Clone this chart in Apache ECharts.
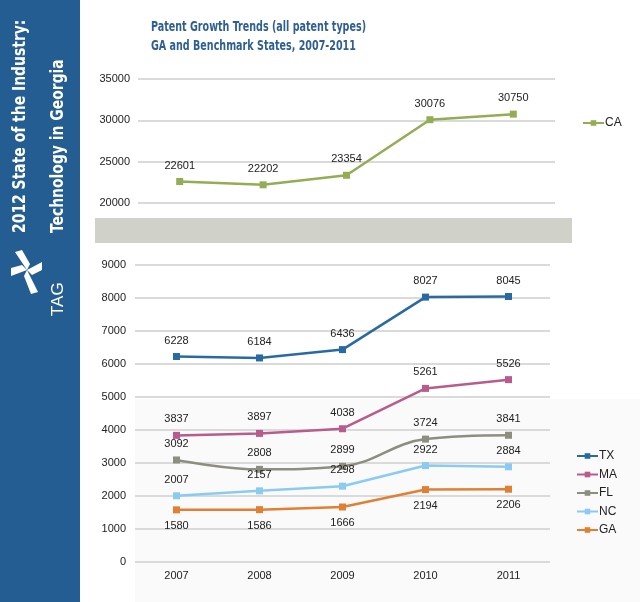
<!DOCTYPE html>
<html>
<head>
<meta charset="utf-8">
<script src="https://cdn.jsdelivr.net/npm/echarts@6/dist/echarts.min.js"></script>
<style>
  html, body {margin: 0; padding: 0; background: #fff;}
  #chart {width: 640px; height: 602px;}
</style>
</head>
<body>
<div id="chart"></div>
<script>
  // data
  const years = ['2007', '2008', '2009', '2010', '2011']
  const CA = [22601, 22202, 23354, 30076, 30750]
  const TX = [6228, 6184, 6436, 8027, 8045]
  const MA = [3837, 3897, 4038, 5261, 5526]
  const FL = [3092, 2808, 2899, 3724, 3841]
  const NC = [2007, 2157, 2298, 2922, 2884]
  const GA = [1580, 1586, 1666, 2194, 2206]

  const colors = {CA: '#93ad55', TX: '#2a6aa3', MA: '#b75c8d', FL: '#8e8e80', NC: '#8ccbf0', GA: '#df8035'}
  const font = '"Liberation Sans", Arial, sans-serif'

  function lineSeries(name, data, idx, opts) {
    return Object.assign({
      name, type: 'line', data, xAxisIndex: idx, yAxisIndex: idx,
      symbol: 'rect', symbolSize: 7, color: colors[name],
      lineStyle: {width: 2.5, color: colors[name]},
      itemStyle: {color: colors[name]},
      label: {show: true, position: 'top', distance: 7, color: '#222', fontFamily: font, fontSize: 11},
      emphasis: {disabled: true}, animation: false,
    }, opts || {})
  }

  const chart = echarts.init(document.getElementById('chart'))
  const axisText = {color: '#222', fontFamily: font, fontSize: 11, formatter: v => String(v)}
  const split = {show: true, lineStyle: {color: '#dadada', width: 2}}
  const legendText = {color: '#222', fontFamily: font, fontSize: 12, padding: [0, 0, 0, -4]}
  const sideFont = 'bold 18px "Liberation Sans Narrow", "DejaVu Sans Condensed"'
  const titleFont = 'bold 14px "Liberation Sans Narrow", "DejaVu Sans Condensed"'

  chart.setOption({
    backgroundColor: '#fff',
    animation: false,
    grid: [
      {left: 138, top: 79, width: 417, height: 124},
      {left: 135, top: 265, width: 415, height: 297},
    ],
    xAxis: [
      {gridIndex: 0, type: 'category', data: years, axisLine: {show: false}, axisTick: {show: false}, axisLabel: {show: false}},
      {gridIndex: 1, type: 'category', data: years, axisLine: {show: false}, axisTick: {show: false},
        axisLabel: Object.assign({margin: 8}, axisText)},
    ],
    yAxis: [
      {gridIndex: 0, type: 'value', min: 20000, max: 35000, interval: 5000, axisLine: {show: false}, axisTick: {show: false},
        axisLabel: Object.assign({margin: 8}, axisText), splitLine: split},
      {gridIndex: 1, type: 'value', min: 0, max: 9000, interval: 1000, axisLine: {show: false}, axisTick: {show: false},
        axisLabel: Object.assign({margin: 9}, axisText), splitLine: split},
    ],
    legend: [
      {data: ['CA'], left: 577, top: 112, itemWidth: 21, itemHeight: 7, itemGap: 2, textStyle: legendText},
      {data: ['TX', 'MA', 'FL', 'NC', 'GA'], orient: 'vertical', left: 571, top: 445, itemWidth: 21, itemHeight: 7, itemGap: 6.5,
        textStyle: legendText},
    ],
    series: [
      lineSeries('CA', CA, 0),
      lineSeries('TX', TX, 1),
      lineSeries('MA', MA, 1),
      lineSeries('FL', FL, 1, {smooth: 0.4}),
      lineSeries('NC', NC, 1),
      lineSeries('GA', GA, 1, {label: {show: true, position: 'bottom', distance: 7, color: '#222', fontFamily: font, fontSize: 11}}),
    ],
    graphic: [
      // faint backdrop behind the lower chart
      {type: 'rect', z: -10, shape: {x: 135, y: 399, width: 505, height: 203}, style: {fill: '#fafafa'}},
      // band between the two charts
      {type: 'rect', z: -5, shape: {x: 95, y: 218, width: 477, height: 25}, style: {fill: '#d0d2ca'}},
      // side bar
      {type: 'rect', z: -5, shape: {x: 0, y: 0, width: 80, height: 602}, style: {fill: '#245d91'}},
      {type: 'text', x: 20, y: 233, rotation: Math.PI / 2, scaleX: 0.86,
        style: {text: '2012 State of the Industry:', fill: '#fff', font: sideFont, textAlign: 'left', textVerticalAlign: 'middle'}},
      {type: 'text', x: 58, y: 233, rotation: Math.PI / 2, scaleX: 0.86,
        style: {text: 'Technology in Georgia', fill: '#fff', font: sideFont, textAlign: 'left', textVerticalAlign: 'middle'}},
      {type: 'text', x: 58, y: 316, rotation: Math.PI / 2,
        style: {text: 'TAG', fill: '#fff', font: '17px "Liberation Sans", Arial', textAlign: 'left', textVerticalAlign: 'middle'}},
      // TAG star mark
      {type: 'polygon', shape: {points: [[27, 270], [15, 252], [22, 250], [30, 264]]}, style: {fill: '#fff'}},
      {type: 'polygon', shape: {points: [[27, 270], [42, 262], [42, 270], [32, 275]]}, style: {fill: '#fff'}},
      {type: 'polygon', shape: {points: [[27, 270], [38, 292], [31, 294], [24, 276]]}, style: {fill: '#fff'}},
      {type: 'polygon', shape: {points: [[27, 270], [11, 276], [11, 268], [22, 265]]}, style: {fill: '#fff'}},
      // titles
      {type: 'text', x: 151, y: 27, scaleX: 0.76,
        style: {text: 'Patent Growth Trends (all patent types)', fill: '#2e5f93', font: titleFont, textAlign: 'left', textVerticalAlign: 'middle'}},
      {type: 'text', x: 151, y: 46, scaleX: 0.76,
        style: {text: 'GA and Benchmark States, 2007-2011', fill: '#2e5f93', font: titleFont, textAlign: 'left', textVerticalAlign: 'middle'}},
    ],
  })
</script>
</body>
</html>
